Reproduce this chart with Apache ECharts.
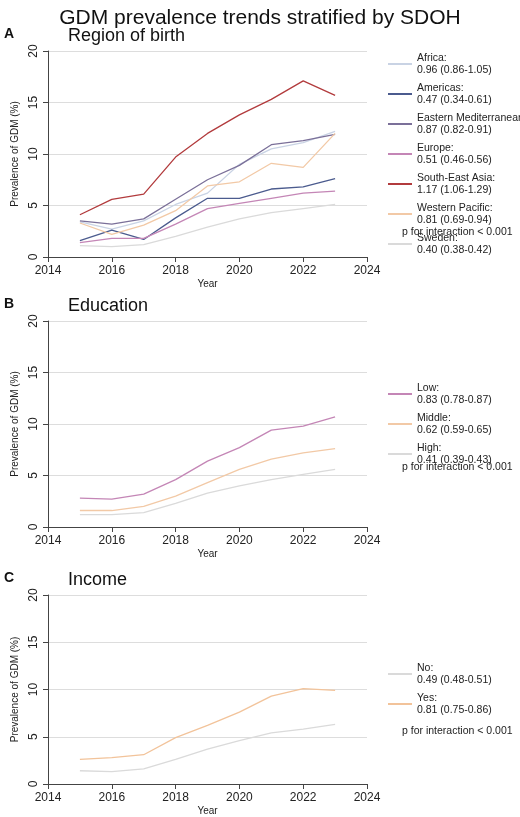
<!DOCTYPE html><html><head><meta charset="utf-8"><script src="https://cdn.jsdelivr.net/npm/echarts@6/dist/echarts.min.js"></script></head><body style="margin:0"><div id="c" style="width:520px;height:817px"></div><script>
const years=[2015,2016,2017,2018,2019,2020,2021,2022,2023];
const xTicks=[2014,2016,2018,2020,2022,2024];
const yTicks=[0,5,10,15,20];
const regionNames=['Africa:\n0.96 (0.86-1.05)','Americas:\n0.47 (0.34-0.61)','Eastern Mediterranean:\n0.87 (0.82-0.91)','Europe:\n0.51 (0.46-0.56)','South-East Asia:\n1.17 (1.06-1.29)','Western Pacific:\n0.81 (0.69-0.94)','Sweden:\n0.40 (0.38-0.42)'];
const regionVals=[[3.4,2.7,3.5,5.1,6.2,9.0,10.5,11.1,12.2],[1.6,2.6,1.7,3.8,5.7,5.7,6.6,6.8,7.6],[3.5,3.2,3.7,5.6,7.5,8.9,10.9,11.3,11.9],[1.4,1.8,1.8,3.2,4.7,5.2,5.7,6.2,6.4],[4.1,5.6,6.1,9.7,12.0,13.8,15.3,17.1,15.7],[3.3,2.2,3.1,4.5,6.9,7.3,9.1,8.7,12.0],[1.1,1.0,1.2,2.0,2.9,3.7,4.3,4.7,5.1]];
const regionColors=['#c9d3e4','#4b5b8e','#7b7099','#c486b6','#b23b3d','#f2c9a6','#dadada'];
const eduNames=['Low:\n0.83 (0.78-0.87)','Middle:\n0.62 (0.59-0.65)','High:\n0.41 (0.39-0.43)'];
const eduVals=[[2.8,2.7,3.2,4.6,6.4,7.7,9.4,9.8,10.7],[1.6,1.6,2.0,3.0,4.3,5.6,6.6,7.2,7.6],[1.2,1.2,1.4,2.3,3.3,4.0,4.6,5.1,5.6]];
const eduColors=['#c486b6','#f2c9a6','#dadada'];
const incNames=['No:\n0.49 (0.48-0.51)','Yes:\n0.81 (0.75-0.86)'];
const incVals=[[1.4,1.3,1.6,2.6,3.7,4.6,5.4,5.8,6.3],[2.6,2.8,3.1,4.9,6.2,7.6,9.3,10.1,9.9]];
const incColors=['#dadada','#f2c39a'];
const panels=[{l:'A',t:'Region of birth',n:regionNames,v:regionVals,c:regionColors,top:51,lt:52,pt:227},
{l:'B',t:'Education',n:eduNames,v:eduVals,c:eduColors,top:321,lt:382,pt:462},
{l:'C',t:'Income',n:incNames,v:incVals,c:incColors,top:595,lt:662,pt:726}];
const F='Liberation Sans, Arial, sans-serif';
const grid=[],xAxis=[],yAxis=[],series=[],legend=[],graphic=[{type:'text',left:'center',top:8,style:{text:'GDM prevalence trends stratified by SDOH',font:'21px '+F,fill:'#111'}}];
panels.forEach((p,i)=>{
 grid.push({left:48,width:319,top:p.top,height:206});
 xAxis.push({gridIndex:i,type:'value',min:2014,max:2024,interval:2,name:'Year',nameLocation:'middle',nameGap:22,nameTextStyle:{fontSize:10,fontFamily:F,color:'#222'},axisLine:{lineStyle:{color:'#444'}},axisTick:{lineStyle:{color:'#444'}},axisLabel:{fontSize:12,fontFamily:F,color:'#222',formatter:v=>String(v)},splitLine:{show:false}});
 yAxis.push({gridIndex:i,type:'value',min:0,max:20,interval:5,name:'Prevalence of GDM (%)',nameLocation:'middle',nameGap:22,nameTextStyle:{fontSize:10,fontFamily:F,color:'#222'},axisLine:{show:true,lineStyle:{color:'#444'}},axisTick:{show:true,lineStyle:{color:'#444'}},axisLabel:{rotate:90,fontSize:12,fontFamily:F,color:'#222'},splitLine:{lineStyle:{color:'#ddd'}}});
 const names=[];
 p.n.forEach((nm,k)=>{names.push(nm);series.push({type:'line',name:nm,xAxisIndex:i,yAxisIndex:i,data:years.map((y,j)=>[y,p.v[k][j]]),showSymbol:false,lineStyle:{width:1.3,color:p.c[k]},itemStyle:{color:p.c[k]}});});
 legend.push({data:names,orient:'vertical',left:388,top:p.lt,padding:0,itemWidth:24,itemHeight:2,itemGap:6,icon:'rect',textStyle:{fontSize:10.5,fontFamily:F,color:'#222',lineHeight:12},selectedMode:false});
 graphic.push({type:'text',left:4,top:p.top-24,style:{text:p.l,font:'bold 14px '+F,fill:'#111'}});
 graphic.push({type:'text',left:68,top:p.top-24,style:{text:p.t,font:'18px '+F,fill:'#111'}});
 graphic.push({type:'text',left:402,top:p.pt,style:{text:'p for interaction < 0.001',font:'10.5px '+F,fill:'#222'}});
});
echarts.init(document.getElementById('c')).setOption({animation:false,backgroundColor:'#fff',grid,xAxis,yAxis,series,legend,graphic});
</script></body></html>
